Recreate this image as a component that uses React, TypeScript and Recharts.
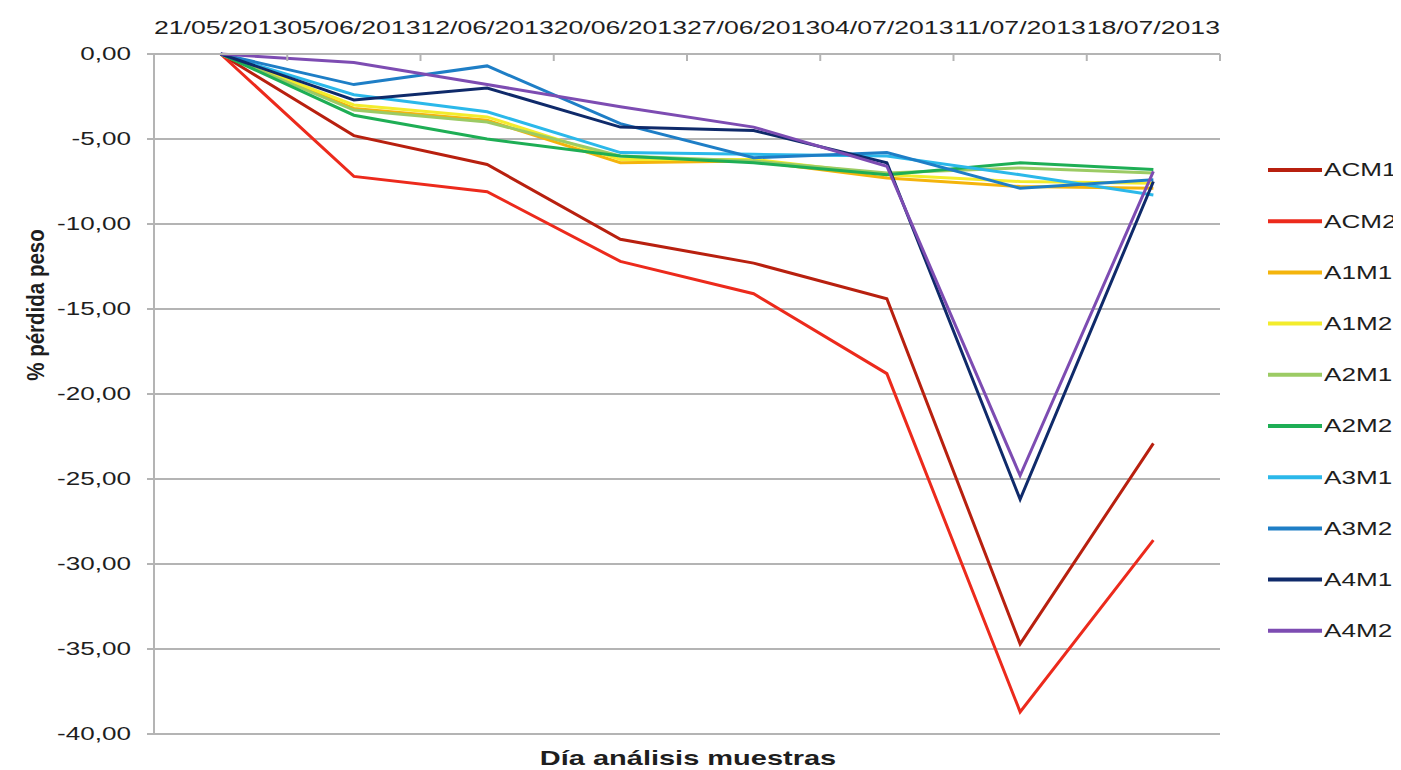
import React from 'react';
import { LineChart, Line, XAxis, YAxis, CartesianGrid, Legend, Label } from 'recharts';

const dates = ['21/05/2013', '05/06/2013', '12/06/2013', '20/06/2013', '27/06/2013', '04/07/2013', '11/07/2013', '18/07/2013'];

const ACM1 = [0, -4.8, -6.5, -10.9, -12.3, -14.4, -34.7, -22.9];
const ACM2 = [0, -7.2, -8.1, -12.2, -14.1, -18.8, -38.7, -28.6];
const A1M1 = [0, -3.2, -3.9, -6.4, -6.3, -7.3, -7.8, -7.9];
const A1M2 = [0, -3.0, -3.7, -6.2, -6.2, -7.1, -7.5, -7.6];
const A2M1 = [0, -3.3, -4.0, -6.0, -6.3, -7.0, -6.7, -7.0];
const A2M2 = [0, -3.6, -5.0, -6.0, -6.4, -7.1, -6.4, -6.8];
const A3M1 = [0, -2.4, -3.4, -5.8, -5.9, -6.0, -7.1, -8.3];
const A3M2 = [0, -1.8, -0.7, -4.1, -6.1, -5.8, -7.9, -7.4];
const A4M1 = [0, -2.7, -2.0, -4.3, -4.5, -6.4, -26.2, -7.5];
const A4M2 = [0, -0.5, -1.8, -3.1, -4.3, -6.6, -24.8, -6.9];

const yTicks = [0, -5, -10, -15, -20, -25, -30, -35, -40];

const seriesNames = ['ACM1', 'ACM2', 'A1M1', 'A1M2', 'A2M1', 'A2M2', 'A3M1', 'A3M2', 'A4M1', 'A4M2'];
const seriesValues = [ACM1, ACM2, A1M1, A1M2, A2M1, A2M2, A3M1, A3M2, A4M1, A4M2];
const seriesColors = ['#B8200F', '#EC2A1C', '#F4B40C', '#F3EC2C', '#9CCB64', '#1EAE55', '#2BB8EA', '#1E7EC6', '#0F2A6A', '#7D4CB2'];

const data = dates.map((d, i) => {
  const row: Record<string, any> = { date: d };
  seriesNames.forEach((n, k) => { row[n] = seriesValues[k][i]; });
  return row;
});

const FONT = '"Liberation Sans", Arial, sans-serif';
const SX = 1.45;
const GRID = '#B4B4B4';
const TEXT = '#1E1E1E';

const fmt = (v: number) => v.toFixed(2).replace('.', ',');

const XTick = (props: any) => {
  const { x, y, payload, index, visibleTicksCount } = props;
  const half = payload && payload.offset ? payload.offset : 66.5;
  return (
    <g>
      <line x1={x - half} x2={x - half} y1={46} y2={53} stroke={GRID} strokeWidth={2} />
      {index === (visibleTicksCount ?? dates.length) - 1 ? (
        <line x1={x + half} x2={x + half} y1={46} y2={53} stroke={GRID} strokeWidth={2} />
      ) : null}
      <g transform={`translate(${x},${y}) scale(1.48,1)`}>
        <text x={0} y={0} textAnchor="middle" fontFamily={FONT} fontSize={18} fill={TEXT}>
          {payload.value}
        </text>
      </g>
    </g>
  );
};

const YTick = (props: any) => {
  const { x, y, payload } = props;
  return (
    <g transform={`translate(${x},${y}) scale(${SX},1)`}>
      <text x={0} y={0} dy="0.36em" textAnchor="end" fontFamily={FONT} fontSize={18} fill={TEXT}>
        {fmt(payload.value)}
      </text>
    </g>
  );
};

const renderLegend = () => (
  <svg width={140} height={520}>
    {seriesNames.map((n, i) => {
      const cy = 20 + i * 51.2;
      return (
        <g key={n}>
          <line x1={2} x2={56} y1={cy} y2={cy} stroke={seriesColors[i]} strokeWidth={4} />
          <g transform={`translate(58,${cy}) scale(${SX},1)`}>
            <text x={0} y={0} dy="0.36em" fontFamily={FONT} fontSize={18} fill={TEXT}>{n}</text>
          </g>
        </g>
      );
    })}
  </svg>
);

export default function App() {
  return (
    <div style={{ width: 1385, height: 762, background: '#fff' }}>
      <LineChart width={1385} height={762} data={data} margin={{ top: 0, right: 33, bottom: 36, left: 0 }}>
        <CartesianGrid vertical={false} stroke={GRID} strokeWidth={2} />
        <XAxis
          dataKey="date"
          orientation="top"
          scale="band"
          height={46}
          tickSize={0}
          tickMargin={20}
          tickLine={false}
          interval={0}
          axisLine={{ stroke: GRID, strokeWidth: 2 }}
          tick={<XTick />}
        >
          <Label
            content={() => (
              <g transform={`translate(680,757) scale(${SX},1)`}>
                <text x={0} y={0} textAnchor="middle" fontFamily={FONT} fontSize={20} fontWeight="bold" fill={TEXT}>
                  Día análisis muestras
                </text>
              </g>
            )}
          />
        </XAxis>
        <YAxis
          type="number"
          domain={[-40, 0]}
          ticks={yTicks}
          width={146}
          tickSize={7}
          tickMargin={16}
          interval={0}
          axisLine={{ stroke: GRID, strokeWidth: 2 }}
          tickLine={{ stroke: GRID, strokeWidth: 2 }}
          tick={<YTick />}
        >
          <Label
            content={() => (
              <g transform={`translate(27,297) rotate(-90) scale(1.08,1.3)`}>
                <text x={0} y={0} dy="0.36em" textAnchor="middle" fontFamily={FONT} fontSize={19} fontWeight="bold" fill={TEXT}>
                  % pérdida peso
                </text>
              </g>
            )}
          />
        </YAxis>
        <Legend
          layout="horizontal"
          verticalAlign="middle"
          align="right"
          content={renderLegend}
          wrapperStyle={{ position: 'absolute', left: 1258, top: 142, width: 140, height: 520 }}
        />
        {seriesNames.map((n, i) => (
          <Line
            key={n}
            type="linear"
            dataKey={n}
            stroke={seriesColors[i]}
            strokeWidth={3}
            dot={false}
            activeDot={false}
            isAnimationActive={false}
          />
        ))}
      </LineChart>
    </div>
  );
}
